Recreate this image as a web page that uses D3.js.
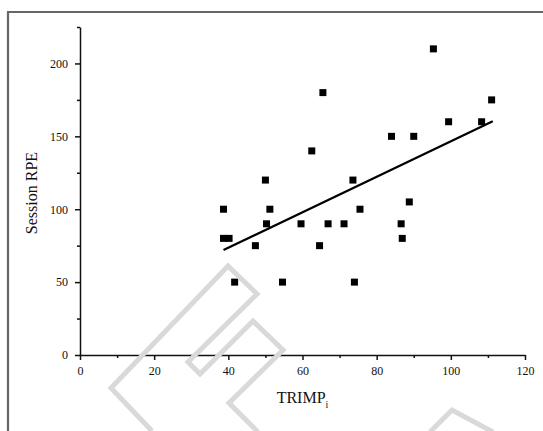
<!DOCTYPE html>
<html>
<head>
<meta charset="utf-8">
<script src="https://cdn.jsdelivr.net/npm/d3@7"></script>
<style>
  body { margin: 0; background: #fff; }
  svg { display: block; }
</style>
</head>
<body>
<div id="scatter"></div>
<script>
// Data
const trimp = [38.7, 38.7, 40.2, 41.7, 47.3, 50.0, 50.3, 51.2, 54.6, 59.6, 62.5, 64.6, 65.5, 66.9,
               71.2, 73.6, 74.0, 75.5, 84.0, 86.6, 86.9, 88.8, 90.0, 95.3, 99.4, 108.3, 111.0];
const sessionRpe = [100, 80, 80, 50, 75, 120, 90, 100, 50, 90, 140, 75, 180, 90,
                    90, 120, 50, 100, 150, 90, 80, 105, 150, 210, 160, 160, 175];

// Linear fit end points
const fitX = [38.7, 111.3];
const fitY = [72, 160.4];

// Axis ticks
const xTicks = [0, 20, 40, 60, 80, 100, 120];
const xMinor = [10, 30, 50, 70, 90, 110];
const yTicks = [0, 50, 100, 150, 200];
const yMinor = [25, 75, 125, 175, 225];

const points = trimp.map((t, i) => ({ x: t, y: sessionRpe[i] }));
const fit = fitX.map((t, i) => ({ x: t, y: fitY[i] }));

const W = 543, H = 431;
const margin = { top: 27, right: 18, bottom: 76, left: 80 },
    width = W - margin.left - margin.right,
    height = H - margin.top - margin.bottom;

const root = d3.select("#scatter")
    .append("svg")
    .attr("width", W)
    .attr("height", H);

// Page frame (top and left edges only are visible)
root.append("path")
    .attr("d", `M8,${H + 5} L8,12 L${W + 5},12`)
    .attr("fill", "none")
    .attr("stroke", "#666")
    .attr("stroke-width", 2.2);

const svg = root.append("g")
    .attr("transform", `translate(${margin.left},${margin.top})`);

const x = d3.scaleLinear().domain([0, 120]).range([0, width]);
const y = d3.scaleLinear().domain([0, 225]).range([height, 0]);

const font = "'Liberation Serif', 'Times New Roman', serif";

// Minor ticks
svg.append("g")
    .attr("transform", `translate(0,${height})`)
    .call(d3.axisBottom(x).tickValues(xMinor).tickSize(3).tickFormat(""))
    .call(g => g.select(".domain").remove());
svg.append("g")
    .call(d3.axisLeft(y).tickValues(yMinor).tickSize(3).tickFormat(""))
    .call(g => g.select(".domain").remove());

// Major axes
const xAxis = svg.append("g")
    .attr("transform", `translate(0,${height})`)
    .call(d3.axisBottom(x).tickValues(xTicks).tickSize(5).tickSizeOuter(0).tickPadding(6));
const yAxis = svg.append("g")
    .call(d3.axisLeft(y).tickValues(yTicks).tickSize(5).tickSizeOuter(0).tickPadding(7));

svg.selectAll(".tick line, .domain")
    .attr("stroke", "#111")
    .attr("stroke-width", 1.5);
[xAxis, yAxis].forEach(g => g.selectAll("text")
    .style("font-family", font)
    .style("font-size", "12px")
    .attr("fill", "#111"));

// Watermark outlines
const wmLine = d3.line();
const watermark = [
    [[152, 431], [111, 388], [228, 266], [257, 294], [188, 362], [200, 374],
     [253, 321], [283, 350], [229, 403], [258, 432]],
    [[430, 432], [452, 410], [493, 432]]
];
root.append("g")
    .selectAll("path")
    .data(watermark)
    .enter()
    .append("path")
    .attr("d", d => wmLine(d))
    .attr("fill", "none")
    .attr("stroke", "#d9d9d9")
    .attr("stroke-width", 5)
    .attr("stroke-linejoin", "miter");

// Regression line
svg.append("path")
    .datum(fit)
    .attr("d", d3.line().x(d => x(d.x)).y(d => y(d.y)))
    .attr("fill", "none")
    .attr("stroke", "#000")
    .attr("stroke-width", 2.2);

// Square markers
const s = 7;
svg.selectAll(".pt")
    .data(points)
    .enter()
    .append("rect")
    .attr("class", "pt")
    .attr("x", d => x(d.x) - s / 2)
    .attr("y", d => y(d.y) - s / 2)
    .attr("width", s)
    .attr("height", s)
    .attr("fill", "#000");

// Axis labels
svg.append("text")
    .attr("x", width / 2)
    .attr("y", height + 48)
    .style("text-anchor", "middle")
    .style("font-family", font)
    .style("font-size", "16px")
    .attr("fill", "#111")
    .text("TRIMP")
    .append("tspan")
    .attr("dy", 5)
    .style("font-size", "10px")
    .text("i");

svg.append("text")
    .attr("transform", "rotate(-90)")
    .attr("x", -(height / 2) - 2)
    .attr("y", -43)
    .style("text-anchor", "middle")
    .style("font-family", font)
    .style("font-size", "16px")
    .attr("fill", "#111")
    .text("Session RPE");
</script>
</body>
</html>
